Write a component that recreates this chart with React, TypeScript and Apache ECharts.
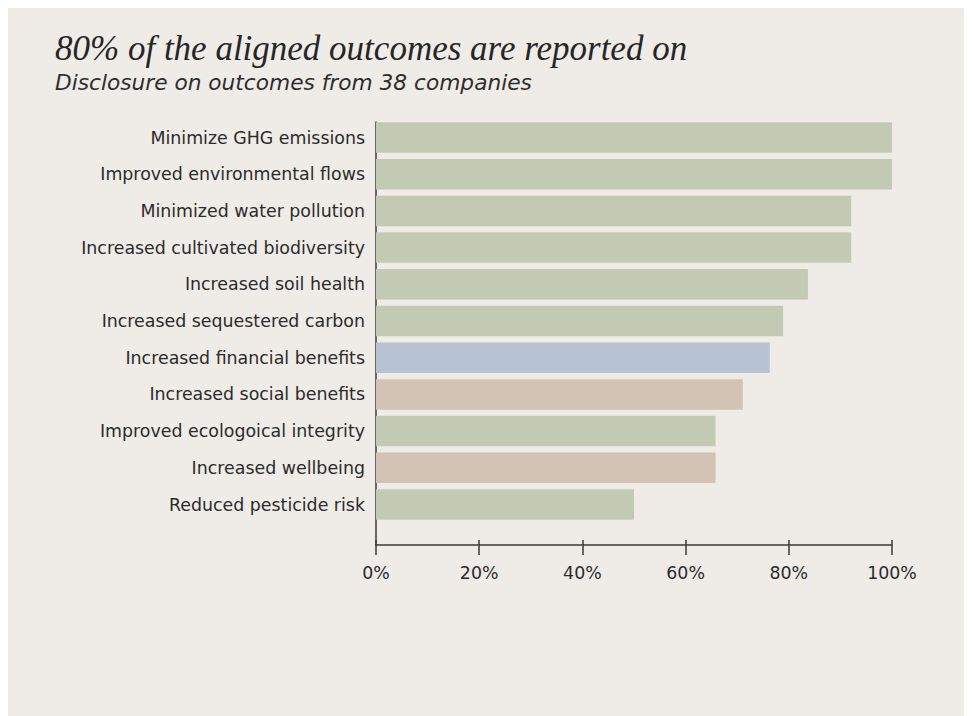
import React, { useEffect, useRef } from "react";
import * as echarts from "echarts";

const categories = [
  "Minimize GHG emissions",
  "Improved environmental flows",
  "Minimized water pollution",
  "Increased cultivated biodiversity",
  "Increased soil health",
  "Increased sequestered carbon",
  "Increased financial benefits",
  "Increased social benefits",
  "Improved ecologoical integrity",
  "Increased wellbeing",
  "Reduced pesticide risk",
];
const values = [100, 100, 92.1, 92.1, 83.7, 78.9, 76.3, 71.1, 65.8, 65.8, 50.0];
const groups = ["env", "env", "env", "env", "env", "env", "fin", "soc", "env", "soc", "env"];
const groupColors: Record<string, string> = { env: "#c3cab4", fin: "#b7c3d2", soc: "#d3c3b5" };
const xTicks = [0, 20, 40, 60, 80, 100];

const TITLE = "80% of the aligned outcomes are reported on";
const SUBTITLE = "Disclosure on outcomes from 38 companies";

export default function App() {
  const ref = useRef<HTMLDivElement>(null);
  useEffect(() => {
    if (!ref.current) return;
    document.documentElement.style.overflow = "hidden";
    document.body.style.overflow = "hidden";
    const chart = echarts.init(ref.current, null, { renderer: "svg" });
    const ink = "#2b2b2b";
    const sans = "DejaVu Sans";
    const yData = categories.slice().reverse();
    const barData = values
      .map((v, i) => ({ value: v, itemStyle: { color: groupColors[groups[i]] } }))
      .reverse();
    chart.setOption({
      animation: false,
      backgroundColor: "#efebe7",
      title: [
        {
          text: TITLE,
          left: 47,
          top: 23,
          padding: 0,
          textStyle: {
            fontFamily: "Liberation Serif",
            fontStyle: "italic",
            fontWeight: "normal",
            fontSize: 35,
            color: "#262626",
          },
        },
        {
          text: SUBTITLE,
          left: 47,
          top: 63.5,
          padding: 0,
          textStyle: {
            fontFamily: sans,
            fontStyle: "italic",
            fontWeight: "normal",
            fontSize: 21.7,
            color: "#2e2e2e",
          },
        },
      ],
      grid: [
        { left: 368, right: 80, top: 111.15, bottom: 193.15 },
        { left: 368, right: 80, top: 114, bottom: 171 },
      ],
      xAxis: [
        { type: "value", gridIndex: 0, min: 0, max: 100, show: false },
        {
          type: "value",
          gridIndex: 1,
          min: 0,
          max: 100,
          interval: 20,
          position: "bottom",
          axisLine: { show: true, lineStyle: { color: "#3a3a3a", width: 1.5 } },
          axisTick: { show: true, inside: false, length: 10, lineStyle: { color: "#3a3a3a", width: 1.5 } },
          splitLine: { show: false },
          axisLabel: {
            margin: 19,
            fontFamily: sans,
            fontSize: 17.4,
            color: ink,
            formatter: (v: number) => (xTicks.includes(v) ? v + "%" : ""),
          },
        },
        {
          type: "value",
          gridIndex: 1,
          min: 0,
          max: 100,
          interval: 20,
          position: "bottom",
          axisLine: { show: false },
          axisTick: { show: true, inside: true, length: 5, lineStyle: { color: "#3a3a3a", width: 1.5 } },
          splitLine: { show: false },
          axisLabel: { show: false },
        },
      ],
      yAxis: [
        {
          type: "category",
          gridIndex: 0,
          data: yData,
          axisLine: { show: false },
          axisTick: { show: false },
          axisLabel: {
            margin: 11,
            fontFamily: sans,
            fontSize: 17.4,
            color: ink,
          },
        },
        {
          type: "value",
          gridIndex: 1,
          min: 0,
          max: 1,
          axisLine: { show: true, lineStyle: { color: "#3a3a3a", width: 1.5 } },
          axisTick: { show: false },
          axisLabel: { show: false },
          splitLine: { show: false },
        },
      ],
      series: [
        {
          type: "bar",
          xAxisIndex: 0,
          yAxisIndex: 0,
          data: barData,
          barCategoryGap: "17%",
        },
      ],
    });
    return () => chart.dispose();
  }, []);
  return (
    <div
      ref={ref}
      style={{ width: 964, height: 708, boxShadow: "24px 24px 0 0 #efebe7" }}
    />
  );
}
